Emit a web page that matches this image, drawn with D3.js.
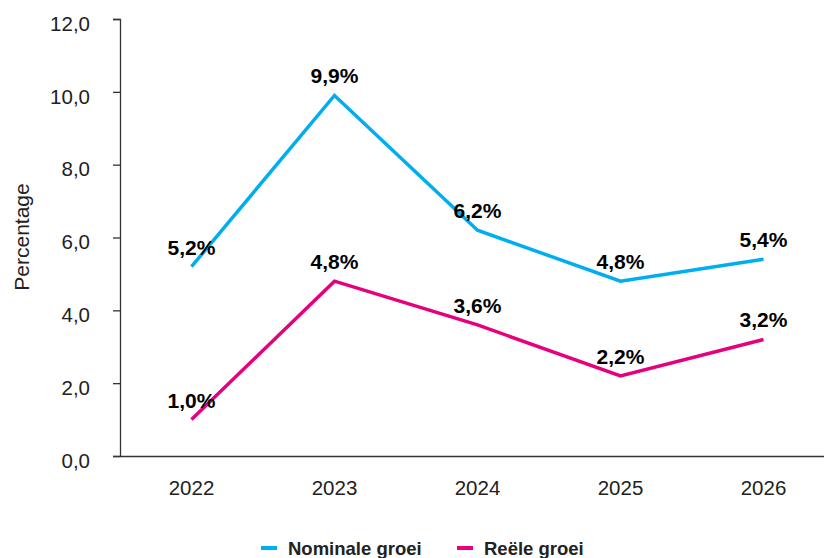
<!DOCTYPE html>
<html>
<head>
<meta charset="utf-8">
<script src="https://cdn.jsdelivr.net/npm/d3@7"></script>
<style>
  body { margin: 0; background: #fff; }
  svg { display: block; font-family: "Liberation Sans", Arial, sans-serif; }
</style>
</head>
<body>
<script>
var w = 824;
var h = 558;

var years = ["2022", "2023", "2024", "2025", "2026"];
var nominal = [5.2, 9.9, 6.2, 4.8, 5.4];
var real = [1.0, 4.8, 3.6, 2.2, 3.2];
var yTicks = [0, 2, 4, 6, 8, 10, 12];

var blue = "#00aeef";
var pink = "#e5007d";

var svg = d3.select("body")
  .append("svg")
  .attr("width", w)
  .attr("height", h);

var x = d3.scaleBand().domain(years).range([120, 835]);
var y = d3.scaleLinear().domain([0, 12]).range([456, 19]);

var fmt = function(d) { return d.toFixed(1).replace(".", ","); };

// y axis
var yAxis = svg.append("g")
  .attr("transform", "translate(120,0)")
  .call(d3.axisLeft(y).tickValues(yTicks).tickFormat(fmt).tickSizeOuter(0).tickSize(7).tickPadding(23));

// x axis
var xAxis = svg.append("g")
  .attr("transform", "translate(0,456)")
  .call(d3.axisBottom(x).tickSize(0).tickSizeOuter(0));

[yAxis, xAxis].forEach(function(g) {
  g.select(".domain").attr("stroke", "#333").attr("stroke-width", 1.3);
  g.selectAll(".tick line").attr("stroke", "#333").attr("stroke-width", 1.3);
  g.selectAll(".tick text").attr("font-size", "20.5px").attr("fill", "#222")
    .attr("font-family", "Liberation Sans, Arial, sans-serif");
});
yAxis.selectAll(".tick text").attr("dy", "0.55em");
xAxis.selectAll(".tick text").attr("y", 39).attr("dy", 0);

// y axis title
svg.append("text")
  .attr("transform", "translate(29,237) rotate(-90)")
  .attr("text-anchor", "middle")
  .attr("font-size", "21px")
  .attr("fill", "#222")
  .text("Percentage");

var line = d3.line()
  .x(function(d, i) { return x(years[i]) + x.bandwidth() / 2; })
  .y(function(d) { return y(d); });

var series = [
  { name: "Nominale groei", values: nominal, color: blue },
  { name: "Reële groei", values: real, color: pink }
];

series.forEach(function(s) {
  svg.append("path")
    .datum(s.values)
    .attr("d", line)
    .attr("fill", "none")
    .attr("stroke", s.color)
    .attr("stroke-width", 3.5);

  svg.append("g").selectAll("text")
    .data(s.values)
    .enter()
    .append("text")
    .attr("x", function(d, i) { return x(years[i]) + x.bandwidth() / 2; })
    .attr("y", function(d) { return y(d) - 12; })
    .attr("text-anchor", "middle")
    .attr("font-size", "21px")
    .attr("font-weight", "bold")
    .attr("fill", "#000")
    .text(function(d) { return fmt(d) + "%"; });
});

// legend
var legend = svg.append("g")
  .selectAll("g")
  .data(series)
  .enter()
  .append("g")
  .attr("transform", function(d, i) { return "translate(" + [261, 457][i] + ",548)"; });

legend.append("rect")
  .attr("x", 0)
  .attr("y", -2)
  .attr("width", 16)
  .attr("height", 4)
  .attr("fill", function(d) { return d.color; });

legend.append("text")
  .attr("x", 27)
  .attr("y", 7)
  .attr("font-size", "18.5px")
  .attr("font-weight", "bold")
  .attr("fill", "#222")
  .text(function(d) { return d.name; });
</script>
</body>
</html>
